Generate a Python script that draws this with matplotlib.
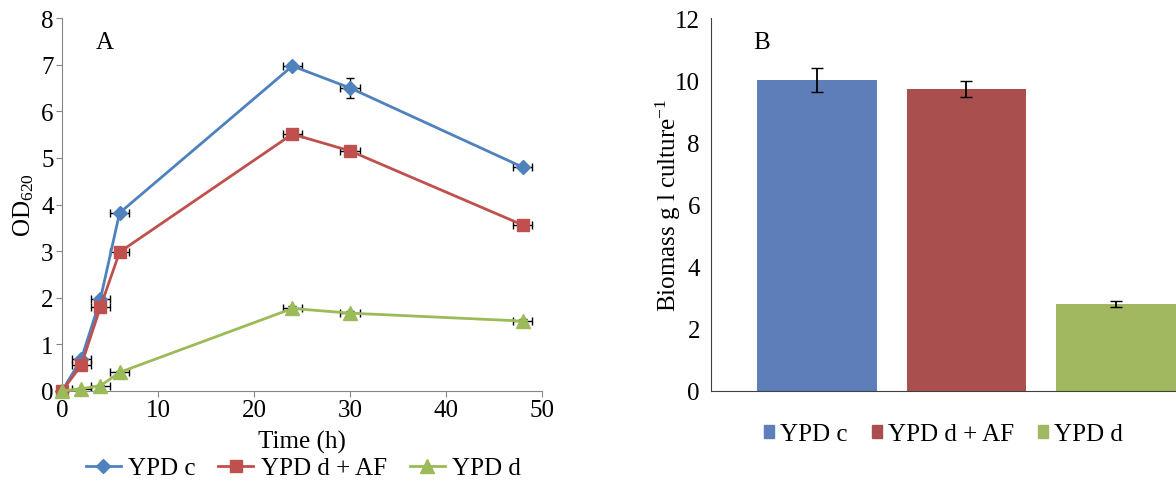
import numpy as np
import matplotlib.pyplot as plt
from matplotlib.patches import Patch
from matplotlib.lines import Line2D

plt.rcParams['font.family'] = ['Liberation Serif', 'DejaVu Serif']
plt.rcParams['mathtext.fontset'] = 'custom'
plt.rcParams['mathtext.rm'] = 'Liberation Serif'
plt.rcParams['mathtext.it'] = 'Liberation Serif:italic'

# Panel A: growth curves
time_h = [0, 2, 4, 6, 24, 30, 48]
od_ypd_c = [0.0, 0.68, 1.97, 3.82, 6.97, 6.50, 4.80]
od_ypd_d_af = [0.0, 0.55, 1.80, 2.98, 5.51, 5.15, 3.56]
od_ypd_d = [0.0, 0.05, 0.11, 0.40, 1.77, 1.67, 1.50]
time_err = [0, 1, 1, 1, 1, 1, 1]
err_ypd_c = [0, 0.05, 0.05, 0.05, 0.06, 0.22, 0.05]
err_ypd_d_af = [0, 0.05, 0.05, 0.05, 0.05, 0.09, 0.05]
err_ypd_d = [0, 0.02, 0.02, 0.03, 0.05, 0.05, 0.04]

# Panel B: biomass
groups = ['YPD c', 'YPD d + AF', 'YPD d']
biomass = [10.0, 9.72, 2.79]
biomass_err = [0.39, 0.25, 0.09]

line_colors = ['#4F81BD', '#C0504D', '#9BBB59']
bar_colors = ['#5E7EB9', '#A9504E', '#A2B860']
spine_col = '#868686'
fs = 18

fig = plt.figure(figsize=(11.76, 4.85), dpi=100)
ax1 = fig.add_axes([62 / 1176, 93 / 485, 480 / 1176, 373 / 485])
ax2 = fig.add_axes([711 / 1176, 93 / 485, 465 / 1176, 373 / 485])

series = [(od_ypd_c, err_ypd_c, 'D', 7),
          (od_ypd_d_af, err_ypd_d_af, 's', 9),
          (od_ypd_d, err_ypd_d, '^', 10)]
handles = []
for (vals, err, mk, ms), col, name in zip(series, line_colors, groups):
    ax1.errorbar(time_h, vals, xerr=time_err, yerr=err, fmt='none',
                 ecolor='black', elinewidth=1, capsize=3, zorder=2)
    ax1.plot(time_h, vals, color=col, lw=2.0, marker=mk, markersize=ms,
             markerfacecolor=col, markeredgecolor=col, zorder=3, clip_on=False)
    handles.append(Line2D([], [], color=col, lw=2.0, marker=mk,
                          markersize=ms, markerfacecolor=col))

ax1.set_xlim(0, 50)
ax1.set_ylim(0, 8)
ax1.set_xticks(range(0, 51, 10))
ax1.set_yticks(range(0, 9))
ax1.set_xlabel('Time (h)', fontsize=fs, labelpad=6)
ax1.set_ylabel(r'OD$_{620}$', fontsize=fs, labelpad=4)
ax1.tick_params(labelsize=fs, direction='out', length=4, color=spine_col, pad=2)
for s in ['top', 'right']:
    ax1.spines[s].set_visible(False)
for s in ['left', 'bottom']:
    ax1.spines[s].set_color(spine_col)
ax1.text(0.07, 0.965, 'A', transform=ax1.transAxes, fontsize=fs, va='top')
ax1.legend(handles, groups, loc='upper center', bbox_to_anchor=(0.503, -0.15),
           ncol=3, frameon=False, fontsize=fs, handlelength=1.4,
           columnspacing=0.9, handletextpad=0.3, borderaxespad=0)

# bars
xpos = np.arange(len(groups))
ax2.bar(xpos, biomass, width=0.8, color=bar_colors, zorder=2)
ax2.errorbar(xpos, biomass, yerr=biomass_err, fmt='none', ecolor='black',
             elinewidth=1.3, capsize=4, zorder=3)
ax2.set_xlim(-0.707, 2.4)
ax2.set_ylim(0, 12)
ax2.set_yticks(range(0, 13, 2))
ax2.set_xticks([])
ax2.set_ylabel(r'Biomass g l culture$^{-1}$', fontsize=fs, labelpad=-6)
ax2.tick_params(labelsize=fs, length=0, pad=8)
for s in ['top', 'right']:
    ax2.spines[s].set_visible(False)
ax2.spines['left'].set_color('#404040')
ax2.spines['bottom'].set_color('#404040')
ax2.text(0.09, 0.965, 'B', transform=ax2.transAxes, fontsize=fs, va='top')
bar_handles = [Patch(color=c) for c in bar_colors]
ax2.legend(bar_handles, groups, loc='upper center', bbox_to_anchor=(0.5, -0.06),
           ncol=3, frameon=False, fontsize=fs, handlelength=0.4,
           handleheight=0.4, columnspacing=0.95, handletextpad=0.25,
           borderaxespad=0)

fig.savefig('out.png', dpi=100)
